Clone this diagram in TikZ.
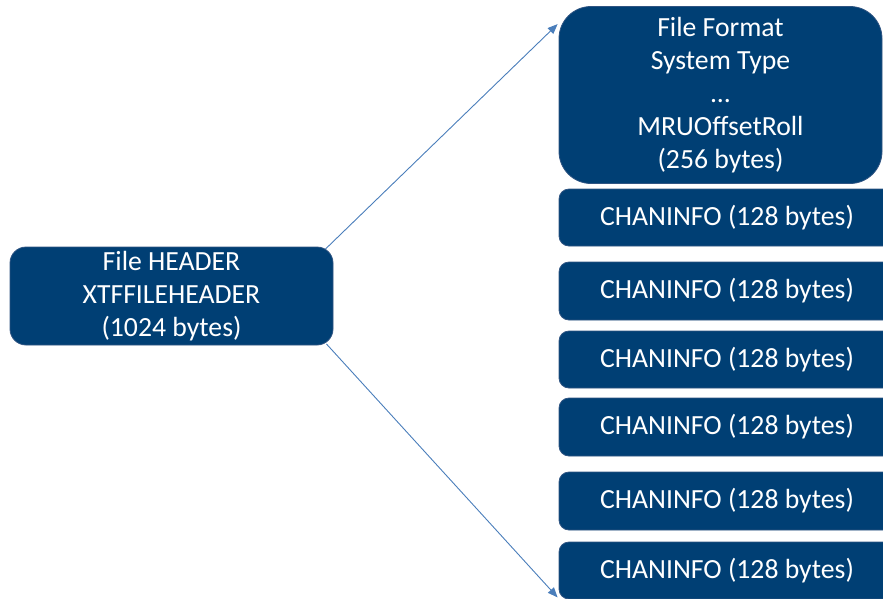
\documentclass[tikz,border=0pt]{standalone}
\usepackage{fontspec}
\setmainfont{Carlito}
\usepackage{xcolor}
\usetikzlibrary{arrows.meta}

\definecolor{boxblue}{RGB}{0,63,116}
\definecolor{boxedge}{RGB}{47,84,130}
\definecolor{arrowblue}{RGB}{74,126,187}

\begin{document}
\begin{tikzpicture}[x=1pt,y=-1pt,
    blockbox/.style={draw=boxedge,line width=0.8pt,fill=boxblue,text=white,align=center,
      font=\fontsize{27.7}{33}\selectfont,inner sep=0pt,minimum width=323pt},
    chanbox/.style={blockbox,rounded corners=10pt,minimum width=336pt},
    linkarrow/.style={draw=arrowblue,line width=0.9pt,-{Triangle[length=10pt,width=8pt]}}]

      \useasboundingbox (0,0) rectangle (883,598);

      \node[blockbox,rounded corners=16pt,minimum height=98pt] (hdr) at (171.5,296) {File HEADER\\XTFFILEHEADER\\(1024 bytes)};

      \node[blockbox,rounded corners=32pt,minimum height=177pt] (fmt) at (720.5,95) {File Format\\System Type\\...\\MRUOffsetRoll\\(256 bytes)};

      \node[chanbox,minimum height=57pt] (chan1) at (727,217.5) {CHANINFO (128 bytes)};
      \node[chanbox,minimum height=58pt] (chan2) at (727,291) {CHANINFO (128 bytes)};
      \node[chanbox,minimum height=57pt] (chan3) at (727,359.5) {CHANINFO (128 bytes)};
      \node[chanbox,minimum height=58pt] (chan4) at (727,427) {CHANINFO (128 bytes)};
      \node[chanbox,minimum height=58pt] (chan5) at (727,501) {CHANINFO (128 bytes)};
      \node[chanbox,minimum height=57pt] (chan6) at (727,570.5) {CHANINFO (128 bytes)};

      \draw[linkarrow] ([xshift=-8pt,yshift=-2.5pt]hdr.north east) -- ([xshift=-1pt,yshift=-18pt]fmt.north west);
      \draw[linkarrow] ([xshift=-7pt,yshift=1.5pt]hdr.south east) -- ([xshift=-1pt,yshift=2pt]chan6.south west);

    \end{tikzpicture}
\end{document}
